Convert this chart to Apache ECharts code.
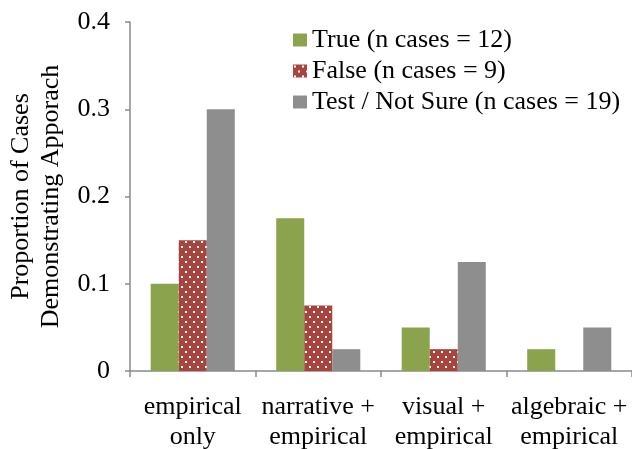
<!DOCTYPE html>
<html><head><meta charset="utf-8">
<script src="https://cdn.jsdelivr.net/npm/echarts@6/dist/echarts.min.js"></script>
<style>html,body{margin:0;padding:0;background:#fff}#c{width:632px;height:449px}</style>
</head><body><div id="c"></div>
<script>
var categories = ['empirical\nonly', 'narrative +\nempirical', 'visual +\nempirical', 'algebraic +\nempirical'];
var seriesNames = ['True (n cases = 12)', 'False (n cases = 9)', 'Test / Not Sure (n cases = 19)'];
var trueVals = [0.1, 0.175, 0.05, 0.025];
var falseVals = [0.15, 0.075, 0.025, 0];
var testVals = [0.3, 0.025, 0.125, 0.05];
var yTicks = [0, 0.1, 0.2, 0.3, 0.4];

var font = '"Liberation Serif", "Times New Roman", serif';
function dotPattern() {
  var c = document.createElement('canvas');
  c.width = 8; c.height = 10;
  var g = c.getContext('2d');
  g.fillStyle = '#A8443E'; g.fillRect(0, 0, 8, 10);
  g.fillStyle = '#ffffff';
  g.fillRect(1, 1, 2, 2);
  g.fillRect(5, 6, 2, 2);
  return c;
}
var pat = {image: dotPattern(), repeat: 'repeat'};

var chart = echarts.init(document.getElementById('c'));
chart.setOption({
  animation: false,
  grid: {left: 130, right: 0, top: 22, bottom: 78, containLabel: false, outerBoundsMode: 'none'},
  legend: {
    orient: 'vertical', left: 293, top: 27, itemWidth: 14, itemHeight: 13, itemGap: 5,
    icon: 'rect', padding: 0,
    textStyle: {fontFamily: font, fontSize: 26, color: '#000'},
    data: seriesNames
  },
  xAxis: {
    type: 'category', data: categories,
    axisLine: {lineStyle: {color: '#8a8a8a', width: 1.5}},
    axisTick: {show: true, length: 6, lineStyle: {color: '#8a8a8a', width: 1.5}},
    axisLabel: {fontFamily: font, fontSize: 26, color: '#000', margin: 21, lineHeight: 30, interval: 0}
  },
  yAxis: {
    type: 'value', min: 0, max: 0.4, interval: 0.1,
    name: 'Proportion of Cases\nDemonstrating Apporach',
    nameLocation: 'middle', nameGap: 64, nameRotate: 90,
    nameTextStyle: {fontFamily: font, fontSize: 26, color: '#000', lineHeight: 30},
    axisLine: {show: true, lineStyle: {color: '#8a8a8a', width: 1.5}},
    axisTick: {show: true, length: 5, lineStyle: {color: '#8a8a8a', width: 1.5}},
    splitLine: {show: false},
    axisLabel: {fontFamily: font, fontSize: 26, color: '#000', margin: 20,
      formatter: function (v) { var i = yTicks.indexOf(Math.round(v * 10) / 10); return i >= 0 ? String(yTicks[i]) : ''; }}
  },
  series: [
    {name: seriesNames[0], type: 'bar', data: trueVals, barGap: '0%', barCategoryGap: '33%',
      itemStyle: {color: '#8BA34D'}},
    {name: seriesNames[1], type: 'bar', data: falseVals, barGap: '0%', barCategoryGap: '33%',
      itemStyle: {color: pat}},
    {name: seriesNames[2], type: 'bar', data: testVals, barGap: '0%', barCategoryGap: '33%',
      itemStyle: {color: '#8E8E8E'}}
  ]
});
</script></body></html>
